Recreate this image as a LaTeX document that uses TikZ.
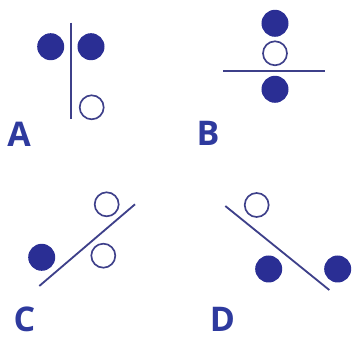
\documentclass[tikz,border=0pt]{standalone}
\usepackage{fontspec}
\setsansfont{Open Sans}
\definecolor{dotblue}{RGB}{42,46,148}
\definecolor{rimblue}{RGB}{62,64,138}
\definecolor{labblue}{RGB}{46,58,158}

\begin{document}
\begin{tikzpicture}[x=0.03cm, y=-0.03cm,
  full/.style={circle, fill=dotblue, inner sep=0pt, minimum size=0.81cm},
  empty/.style={circle, draw=rimblue, line width=0.05cm, inner sep=0pt, minimum size=0.72cm},
  wall/.style={draw=rimblue, line width=0.055cm},
  tag/.style={text=labblue, inner sep=0pt, font=\sffamily\bfseries\fontsize{29}{29}\selectfont}]
\useasboundingbox (0,0) rectangle (353,339);
% panel A:
\coordinate (a1) at (70.7,22.7); \coordinate (a2) at (70.7,119);
\draw[wall] (a1) -- (a2);
\node[full] (aL) at (50.7,46.7) {};
\node[full] (aR) at (91,46.7) {};
\node[empty] (aO) at (91.7,107.3) {};
\node[tag] (tA) at (19,134.5) {A};
% panel B:
\coordinate (b1) at (223.3,71); \coordinate (b2) at (325.3,71);
\draw[wall] (b1) -- (b2);
\node[full] (bT) at (275,23.3) {};
\node[empty] (bO) at (275,53.3) {};
\node[full] (bB) at (275,89.3) {};
\node[tag] (tB) at (208,133) {B};
% panel C:
\coordinate (c1) at (39.3,286); \coordinate (c2) at (135,204.3);
\draw[wall] (c1) -- (c2);
\node[empty] (cT) at (106.7,204.3) {};
\node[empty] (cB) at (103.3,255.7) {};
\node[full] (cF) at (41.7,257.3) {};
\node[tag] (tC) at (24.5,319.5) {C};
% panel D:
\coordinate (d1) at (225.3,206); \coordinate (d2) at (329.3,290);
\draw[wall] (d1) -- (d2);
\node[empty] (dO) at (256.7,205) {};
\node[full] (dL) at (268.7,269) {};
\node[full] (dR) at (337.7,269) {};
\node[tag] (tD) at (222.5,319.5) {D};
\end{tikzpicture}
\end{document}
